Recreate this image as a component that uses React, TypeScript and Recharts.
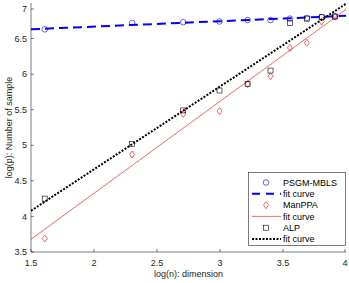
import { ComposedChart, Scatter, XAxis, YAxis, Legend } from "recharts";

// log(n) for n = 5, 10, ..., 50
const dims = [1.609, 2.303, 2.708, 2.996, 3.219, 3.401, 3.555, 3.689, 3.807, 3.912];
const psgm = [6.63, 6.72, 6.73, 6.74, 6.76, 6.76, 6.78, 6.79, 6.8, 6.81];
const manppa = [3.69, 4.87, 5.44, 5.48, 5.86, 5.97, 6.37, 6.44, 6.74, 6.81];
const alp = [4.25, 5.02, 5.49, 5.77, 5.86, 6.05, 6.72, 6.78, 6.8, 6.81];

// fit curves, read at the two ends of the x range
const fitX = [1.5, 4];
const psgmFit = [6.63, 6.82];
const manppaFit = [3.68, 6.91];
const alpFit = [4.08, 6.99];

const xTicks = [1.5, 2, 2.5, 3, 3.5, 4];
const yTicks = [3.5, 4, 4.5, 5, 5.5, 6, 6.5, 7];

const toPts = (xs: number[], ys: number[]) => xs.map((x, i) => ({ x, y: ys[i] }));

const AX = "#262626";
const FONT = '"Liberation Sans", Arial, sans-serif';
const FS = 9;

const Circle = ({ cx, cy }: any) => (
  <circle cx={cx} cy={cy} r={2.8} fill="none" stroke="#0000ff" strokeWidth={0.6} />
);
const Diamond = ({ cx, cy }: any) => (
  <path
    d={`M${cx},${cy - 3.5}L${cx + 2.5},${cy}L${cx},${cy + 3.5}L${cx - 2.5},${cy}Z`}
    fill="none"
    stroke="#ff0000"
    strokeWidth={0.6}
  />
);
const Square = ({ cx, cy }: any) => (
  <rect x={cx - 2.5} y={cy - 2.5} width={5} height={5} fill="none" stroke="#000" strokeWidth={0.6} />
);
const NoShape = () => <g />;

const BottomTick = ({ x, y, payload }: any) => (
  <g>
    <line x1={x} x2={x} y1={y} y2={y - 3} stroke={AX} strokeWidth={0.6} />
    <text x={x} y={y + 13.5} textAnchor="middle" fontSize={FS} fill={AX} fontFamily={FONT}>
      {payload.value}
    </text>
  </g>
);
const TopTick = ({ x, y }: any) => (
  <line x1={x} x2={x} y1={y} y2={y + 3} stroke={AX} strokeWidth={0.6} />
);
const LeftTick = ({ x, y, payload }: any) => (
  <g>
    <line x1={x} x2={x + 3} y1={y} y2={y} stroke={AX} strokeWidth={0.6} />
    <text x={x - 4} y={y + 3.2} textAnchor="end" fontSize={FS} fill={AX} fontFamily={FONT}>
      {payload.value}
    </text>
  </g>
);
const RightTick = ({ x, y }: any) => (
  <line x1={x} x2={x - 3} y1={y} y2={y} stroke={AX} strokeWidth={0.6} />
);

const legendItems = [
  { name: "PSGM-MBLS", kind: "circle" },
  { name: "fit curve", kind: "dash" },
  { name: "ManPPA", kind: "diamond" },
  { name: "fit curve", kind: "red" },
  { name: "ALP", kind: "square" },
  { name: "fit curve", kind: "dot" },
];

const LegendBox = () => (
  <svg width={98} height={74} style={{ display: "block" }}>
    <rect x={0.5} y={0.5} width={97} height={73} fill="#fff" stroke={AX} strokeWidth={0.6} />
    {legendItems.map((it, i) => {
      const cy = 10.5 + i * 11.3;
      let sym = null;
      if (it.kind === "circle") sym = <Circle cx={18} cy={cy} />;
      if (it.kind === "diamond") sym = <Diamond cx={18} cy={cy} />;
      if (it.kind === "square") sym = <Square cx={18} cy={cy} />;
      if (it.kind === "dash")
        sym = <line x1={4} x2={33} y1={cy} y2={cy} stroke="#0000ff" strokeWidth={2} strokeDasharray="8 6" />;
      if (it.kind === "red")
        sym = <line x1={4} x2={33} y1={cy} y2={cy} stroke="#ff0000" strokeWidth={0.6} />;
      if (it.kind === "dot")
        sym = <line x1={4} x2={33} y1={cy} y2={cy} stroke="#000" strokeWidth={2} strokeDasharray="2 1.5" />;
      return (
        <g key={i}>
          {sym}
          <text x={35} y={cy + 3.2} fontSize={FS} fill="#000" fontFamily={FONT}>
            {it.name}
          </text>
        </g>
      );
    })}
  </svg>
);

export default function App() {
  return (
    <div
      style={{
        position: "absolute",
        left: 0,
        top: 0,
        width: 349,
        height: 283,
        background: "#fff",
        fontFamily: FONT,
      }}
    >
      <ComposedChart width={349} height={283} margin={{ top: 3, right: 3, bottom: 0, left: 0 }}>
        <XAxis
          dataKey="x"
          type="number"
          domain={[1.5, 4]}
          ticks={xTicks}
          allowDataOverflow
          height={31}
          tickSize={0}
          tickMargin={0}
          tickLine={false}
          tick={BottomTick}
          axisLine={{ stroke: AX, strokeWidth: 0.6 }}
          label={({ viewBox }: any) => (
            <text
              x={viewBox.x + viewBox.width / 2}
              y={viewBox.y + 25}
              textAnchor="middle"
              fontSize={FS}
              fill={AX}
              fontFamily={FONT}
            >
              log(n): dimension
            </text>
          )}
        />
        <XAxis
          xAxisId="top"
          orientation="top"
          type="number"
          domain={[1.5, 4]}
          ticks={xTicks}
          allowDataOverflow
          height={0}
          tickSize={0}
          tickMargin={0}
          tickLine={false}
          tick={TopTick}
          axisLine={{ stroke: AX, strokeWidth: 0.6 }}
        />
        <YAxis
          dataKey="y"
          type="number"
          domain={[3.5, 7]}
          ticks={yTicks}
          allowDataOverflow
          width={31}
          tickSize={0}
          tickMargin={0}
          tickLine={false}
          tick={LeftTick}
          axisLine={{ stroke: AX, strokeWidth: 0.6 }}
          label={({ viewBox }: any) => {
            const cy = viewBox.y + viewBox.height / 2;
            return (
              <text
                x={11.5}
                y={cy}
                transform={`rotate(-90, 11.5, ${cy})`}
                textAnchor="middle"
                fontSize={FS}
                fill={AX}
                fontFamily={FONT}
              >
                log(p): Number of sample
              </text>
            );
          }}
        />
        <YAxis
          yAxisId="right"
          orientation="right"
          type="number"
          domain={[3.5, 7]}
          ticks={yTicks}
          allowDataOverflow
          width={0}
          tickSize={0}
          tickMargin={0}
          tickLine={false}
          tick={RightTick}
          axisLine={{ stroke: AX, strokeWidth: 0.6 }}
        />
        <Scatter data={toPts(dims, psgm)} shape={Circle} isAnimationActive={false} />
        <Scatter
          data={toPts(fitX, psgmFit)}
          shape={NoShape}
          line={{ stroke: "#0000ff", strokeWidth: 2, strokeDasharray: "9 5" }}
          isAnimationActive={false}
        />
        <Scatter data={toPts(dims, manppa)} shape={Diamond} isAnimationActive={false} />
        <Scatter
          data={toPts(fitX, manppaFit)}
          shape={NoShape}
          line={{ stroke: "#ff0000", strokeWidth: 0.6 }}
          isAnimationActive={false}
        />
        <Scatter data={toPts(dims, alp)} shape={Square} isAnimationActive={false} />
        <Scatter
          data={toPts(fitX, alpFit)}
          shape={NoShape}
          line={{ stroke: "#000", strokeWidth: 2, strokeDasharray: "2 1.5" }}
          isAnimationActive={false}
        />
        <Legend
          layout="vertical"
          align="center"
          verticalAlign="middle"
          wrapperStyle={{ left: 248, top: 172, width: 98, height: 74 }}
          content={() => <LegendBox />}
        />
      </ComposedChart>
    </div>
  );
}
